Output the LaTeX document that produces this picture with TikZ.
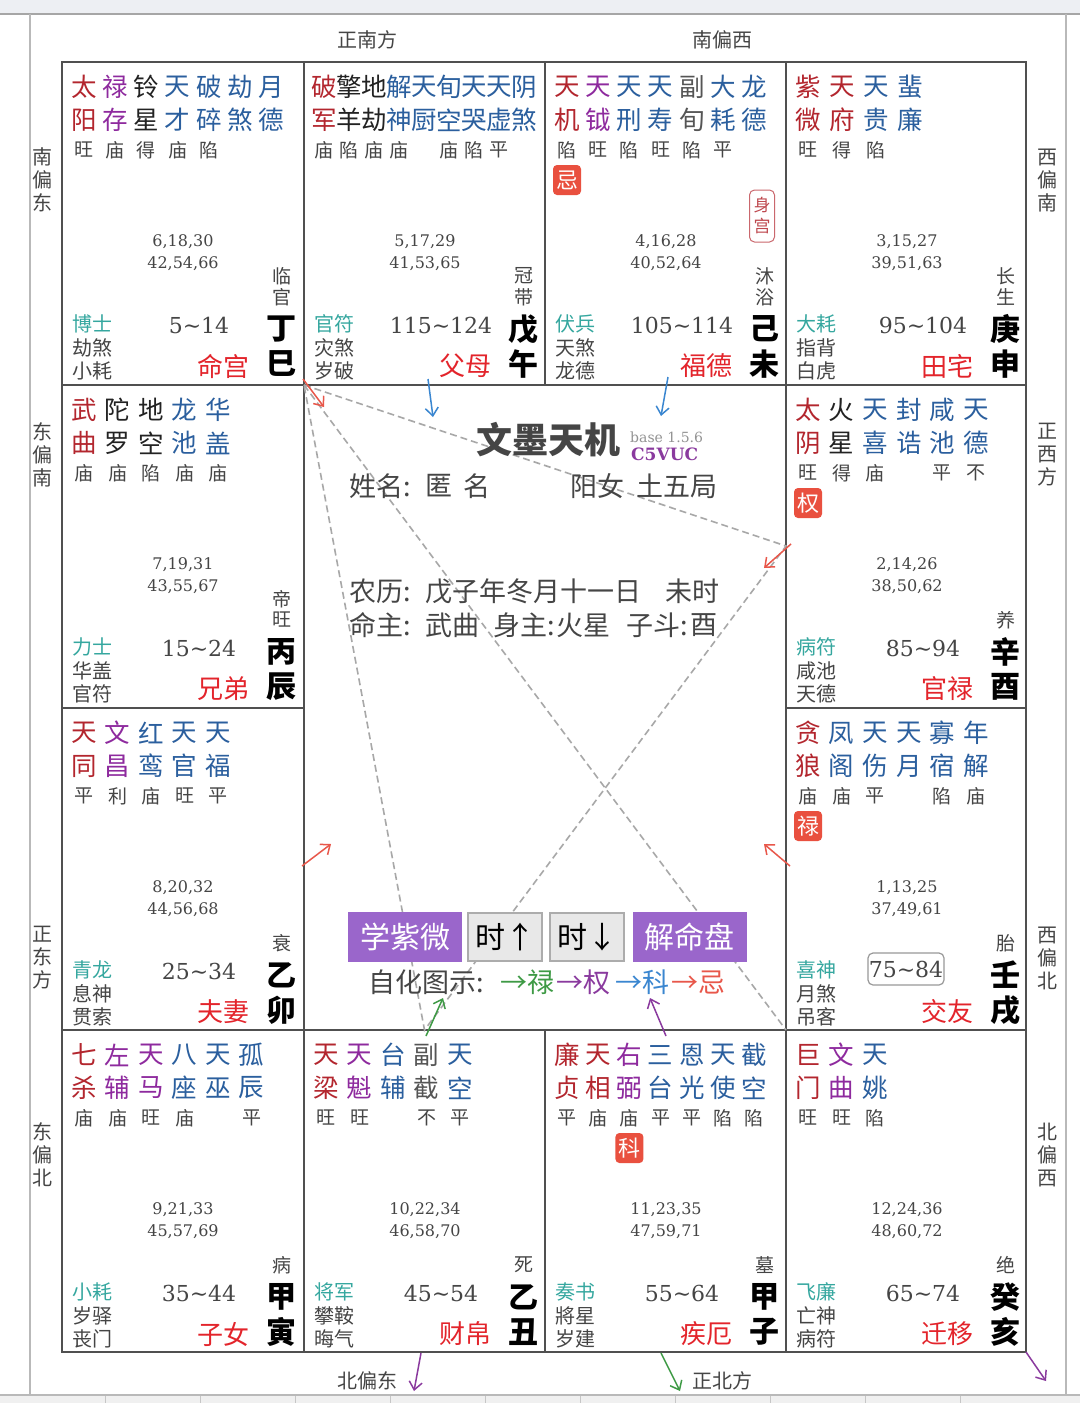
\documentclass[tikz,border=0pt]{standalone}
\usepackage{fontspec}
\setmainfont{Noto Sans CJK SC}
\newfontfamily\numfont{DejaVu Serif}
\usetikzlibrary{arrows.meta}
\definecolor{sr}{HTML}{B3262E}
\definecolor{sp}{HTML}{8E2A9E}
\definecolor{sk}{HTML}{222222}
\definecolor{sb}{HTML}{2B5F9E}
\definecolor{sg}{HTML}{555555}
\definecolor{gtx}{HTML}{454545}
\definecolor{tealc}{HTML}{35A79F}
\definecolor{pred}{HTML}{E3242B}
\definecolor{badgec}{HTML}{E9503F}
\definecolor{btnp}{HTML}{9A66CB}
\definecolor{gridc}{HTML}{505050}
\definecolor{dashc}{HTML}{A8A8A8}
\definecolor{arred}{HTML}{E8574A}
\definecolor{arblue}{HTML}{3A86D0}
\definecolor{argreen}{HTML}{3E9A45}
\definecolor{arpurp}{HTML}{8A3A9E}
\definecolor{topband}{HTML}{EDEFF3}
\tikzset{
 star/.style={font=\fontsize{25.5}{25.5}\selectfont, inner sep=0pt},
 bright/.style={font=\fontsize{19}{19}\selectfont, text=gtx, inner sep=0pt},
 num/.style={font=\numfont\fontsize{16}{16}\selectfont, text=gtx, inner sep=0pt},
 cs/.style={font=\fontsize{19}{19}\selectfont, text=gtx, inner sep=0pt},
 stemb/.style={font=\bfseries\fontsize{30}{30}\selectfont, text=black, inner sep=0pt},
 bos/.style={font=\fontsize{20}{20}\selectfont, text=tealc, anchor=west, inner sep=0pt},
 gods/.style={font=\fontsize{20}{20}\selectfont, text=gtx, anchor=west, inner sep=0pt},
 dec/.style={font=\numfont\fontsize{22}{22}\selectfont, text=gtx, inner sep=0pt},
 pal/.style={font=\fontsize{26}{26}\selectfont, text=pred, anchor=east, inner sep=0pt},
 badge/.style={fill=badgec, rounded corners=4pt, text=white, font=\fontsize{22}{22}\selectfont, minimum width=28pt, minimum height=30pt, inner sep=0pt},
 dir/.style={font=\fontsize{20}{20}\selectfont, text=gtx, inner sep=0pt},
 dirv/.style={font=\fontsize{20}{23}\selectfont, text=gtx, inner sep=0pt, align=center},
 info/.style={font=\fontsize{27}{27}\selectfont, text=gtx, inner sep=0pt, anchor=west},
 btnpurple/.style={fill=btnp, text=white, font=\fontsize{30}{30}\selectfont, minimum width=114pt, minimum height=50pt, inner sep=0pt},
 btngray/.style={fill=gray!18, draw=gray!65, line width=2pt, text=black, font=\fontsize{30}{30}\selectfont, minimum width=74pt, minimum height=48pt, inner sep=0pt},
 gridl/.style={draw=gridc, line width=1.3pt},
 dashl/.style={draw=dashc, line width=1.6pt, dash pattern=on 7pt off 4pt},
 arr/.style={line width=1.5pt, -{Straight Barb[length=8pt,width=13pt]}},
}
\newcommand{\starsP}[5]{%
 \foreach[count=\i] \c/\t/\b/\r in {#5}{%
  \pgfmathsetmacro{\xx}{#2+22+(\i-1)*#4}
  \node[star,text=\c] (#1t\i) at ({\xx},{#3+25}) {\t};
  \node[star,text=\c] (#1b\i) at ({\xx},{#3+58}) {\b};
  \node[bright] (#1r\i) at ({\xx},{#3+88}) {\r};
 }}
\newcommand{\pinfo}[9]{%
 \node[num] (#1n1) at ({#2+121},{#3+180}) {#4};
 \node[num] (#1n2) at ({#2+121},{#3+202}) {#5};
 \node[cs] (#1c1) at ({#2+220},{#3+214}) {#6};
 \node[cs] (#1c2) at ({#2+220},{#3+235}) {#7};
 \node[stemb] (#1s1) at ({#2+219},{#3+267}) {#8};
 \node[stemb] (#1s2) at ({#2+219},{#3+302}) {#9};}
\newcommand{\pbottom}[8]{%
 \node[bos] (#1g1) at ({#2+10},{#3+262}) {#4};
 \node[gods] (#1g2) at ({#2+10},{#3+286}) {#5};
 \node[gods] (#1g3) at ({#2+10},{#3+309}) {#6};
 \node[dec] (#1d) at ({#2+137},{#3+263}) {#7};
 \node[pal] (#1p) at ({#2+188},{#3+304}) {#8};}
\newcommand{\tl}{\textasciitilde}
\begin{document}
\begin{tikzpicture}[x=1pt,y=-1pt]
\useasboundingbox (0,0) rectangle (1080,1403);
\fill[white] (0,0) rectangle (1080,1403);
% frame
\fill[topband] (0,0) rectangle (1080,13);
\draw[gray!70, line width=2pt] (0,14) -- (1080,14);
\draw[gray!55, line width=1.5pt] (30,14) -- (30,1395);
\draw[gray!55, line width=1.5pt] (1066,14) -- (1066,1395);
\fill[gray!12] (0,1395) rectangle (1080,1403);
\draw[gray!55, line width=2pt] (0,1395) -- (1080,1395);
\foreach \k in {105,200,295,390,485,580,675,770,865,960}{\draw[gray!45,line width=1pt] (\k,1396) -- (\k,1403);}
% grid
\draw[gridl] (62,62) rectangle (1026,1352);
\foreach \xg in {304,545,786}{\draw[gridl] (\xg,62) -- (\xg,385); \draw[gridl] (\xg,1030) -- (\xg,1352);}
\draw[gridl] (304,385) -- (304,1030);
\draw[gridl] (786,385) -- (786,1030);
\draw[gridl] (62,385) -- (1026,385);
\draw[gridl] (62,1030) -- (1026,1030);
\draw[gridl] (62,708) -- (304,708);
\draw[gridl] (786,708) -- (1026,708);
% direction labels
\node[dir] (dS) at (367,40) {正南方};
\node[dir] (dSW) at (722,40) {南偏西};
\node[dir] (dNE) at (367,1381) {北偏东};
\node[dir] (dN) at (722,1381) {正北方};
\node[dirv] (dSE) at (42,180) {南\\偏\\东};
\node[dirv] (dES) at (42,455) {东\\偏\\南};
\node[dirv] (dE) at (42,958) {正\\东\\方};
\node[dirv] (dEN) at (42,1155) {东\\偏\\北};
\node[dirv] (dWS) at (1047,181) {西\\偏\\南};
\node[dirv] (dW) at (1047,455) {正\\西\\方};
\node[dirv] (dWN) at (1047,958) {西\\偏\\北};
\node[dirv] (dNW) at (1047,1155) {北\\偏\\西};
% dashed san-fang lines
\coordinate (ming) at (304,385);
\coordinate (guan) at (786,546);
\coordinate (cai) at (424.5,1030);
\coordinate (qian) at (786,1030);
\draw[dashl] (ming) -- (guan) -- (cai) -- (ming);
\draw[dashl] (ming) -- (qian);
% palaces
\starsP{si}{62}{62}{31.2}{sr/太/阳/旺, sp/禄/存/庙, sk/铃/星/得, sb/天/才/庙, sb/破/碎/陷, sb/劫/煞/{}, sb/月/德/{}}
\pinfo{si}{62}{62}{6,18,30}{42,54,66}{临}{官}{丁}{巳}
\pbottom{si}{62}{62}{博士}{劫煞}{小耗}{5\tl14}{命宫}
\starsP{wu}{302}{62}{25}{sr/破/军/庙, sk/擎/羊/陷, sk/地/劫/庙, sb/解/神/庙, sb/天/厨/{}, sb/旬/空/庙, sb/天/哭/陷, sb/天/虚/平, sb/阴/煞/{}}
\pinfo{wu}{304}{62}{5,17,29}{41,53,65}{冠}{带}{戊}{午}
\pbottom{wu}{304}{62}{官符}{灾煞}{岁破}{115\tl124}{父母}
\starsP{wei}{545}{62}{31.2}{sr/天/机/陷, sp/天/钺/旺, sb/天/刑/陷, sb/天/寿/旺, sg/副/旬/陷, sb/大/耗/平, sb/龙/德/{}}
\pinfo{wei}{545}{62}{4,16,28}{40,52,64}{沐}{浴}{己}{未}
\pbottom{wei}{545}{62}{伏兵}{天煞}{龙德}{105\tl114}{福德}
\node[badge] (weiji) at (567,180) {忌};
\node[draw=sr!70, rounded corners=5pt, text=sr!85, font=\fontsize{17}{21}\selectfont, align=center, minimum width=25pt, minimum height=52pt, inner sep=0pt, line width=1pt] (shengong) at (762,216) {身\\宫};
\starsP{shen}{786}{62}{34}{sr/紫/微/旺, sr/天/府/得, sb/天/贵/陷, sb/蜚/廉/{}}
\pinfo{shen}{786}{62}{3,15,27}{39,51,63}{长}{生}{庚}{申}
\pbottom{shen}{786}{62}{大耗}{指背}{白虎}{95\tl104}{田宅}
\starsP{chen}{62}{385}{33.5}{sr/武/曲/庙, sk/陀/罗/庙, sk/地/空/陷, sb/龙/池/庙, sb/华/盖/庙}
\pinfo{chen}{62}{385}{7,19,31}{43,55,67}{帝}{旺}{丙}{辰}
\pbottom{chen}{62}{385}{力士}{华盖}{官符}{15\tl24}{兄弟}
\starsP{you}{786}{385}{33.6}{sr/太/阴/旺, sk/火/星/得, sb/天/喜/庙, sb/封/诰/{}, sb/咸/池/平, sb/天/德/不}
\pinfo{you}{786}{385}{2,14,26}{38,50,62}{}{养}{辛}{酉}
\pbottom{you}{786}{385}{病符}{咸池}{天德}{85\tl94}{官禄}
\node[badge] (youquan) at (808,503) {权};
\starsP{mao}{62}{708}{33.5}{sr/天/同/平, sp/文/昌/利, sb/红/鸾/庙, sb/天/官/旺, sb/天/福/平}
\pinfo{mao}{62}{708}{8,20,32}{44,56,68}{}{衰}{乙}{卯}
\pbottom{mao}{62}{708}{青龙}{息神}{贯索}{25\tl34}{夫妻}
\starsP{xu}{786}{708}{33.6}{sr/贪/狼/庙, sb/凤/阁/庙, sb/天/伤/平, sb/天/月/{}, sb/寡/宿/陷, sb/年/解/庙}
\pinfo{xu}{786}{708}{1,13,25}{37,49,61}{}{胎}{壬}{戌}
\pbottom{xu}{786}{708}{喜神}{月煞}{吊客}{}{交友}
\node[dec, draw=gray!80, line width=1.2pt, rounded corners=5pt, minimum width=76pt, minimum height=32pt] (xudbox) at (906,969) {75\tl84};
\node[badge] (xulu) at (808,826) {禄};
\starsP{yin}{62}{1030}{33.5}{sr/七/杀/庙, sp/左/辅/庙, sp/天/马/旺, sb/八/座/庙, sb/天/巫/{}, sb/孤/辰/平}
\pinfo{yin}{62}{1030}{9,21,33}{45,57,69}{}{病}{甲}{寅}
\pbottom{yin}{62}{1030}{小耗}{岁驿}{丧门}{35\tl44}{子女}
\starsP{chou}{304}{1030}{33.5}{sr/天/梁/旺, sp/天/魁/旺, sb/台/辅/{}, sg/副/截/不, sb/天/空/平}
\pinfo{chou}{304}{1030}{10,22,34}{46,58,70}{}{死}{乙}{丑}
\pbottom{chou}{304}{1030}{将军}{攀鞍}{晦气}{45\tl54}{财帛}
\starsP{zi}{545}{1030}{31.2}{sr/廉/贞/平, sr/天/相/庙, sp/右/弼/庙, sb/三/台/平, sb/恩/光/平, sb/天/使/陷, sb/截/空/陷}
\pinfo{zi}{545}{1030}{11,23,35}{47,59,71}{}{墓}{甲}{子}
\pbottom{zi}{545}{1030}{奏书}{將星}{岁建}{55\tl64}{疾厄}
\node[badge] (zike) at (629.4,1148) {科};
\starsP{hai}{786}{1030}{33.6}{sr/巨/门/旺, sp/文/曲/旺, sb/天/姚/陷}
\pinfo{hai}{786}{1030}{12,24,36}{48,60,72}{}{绝}{癸}{亥}
\pbottom{hai}{786}{1030}{飞廉}{亡神}{病符}{65\tl74}{迁移}
% center info
\node[font=\bfseries\fontsize{36}{36}\selectfont, text=gtx, inner sep=0pt] (title) at (548,440) {文墨天机};
\node[font=\numfont\fontsize{14}{14}\selectfont, text=gray!85, anchor=west, inner sep=0pt] (ver) at (630,437) {base 1.5.6};
\node[font=\numfont\bfseries\fontsize{17}{17}\selectfont, text=arpurp, anchor=west, inner sep=0pt] (code) at (631,454) {C5VUC};
\node[info] (i1) at (349,486) {姓名:};
\node[info] (i2) at (425,486) {匿};
\node[info] (i3) at (463,486) {名};
\node[info] (i4) at (570,486) {阳女};
\node[info] (i5) at (636,486) {土五局};
\node[info] (i6) at (349,591) {农历:};
\node[info] (i7) at (425,591) {戊子年冬月十一日};
\node[info] (i8) at (665,591) {未时};
\node[info] (i9) at (349,625) {命主:};
\node[info] (i10) at (425,625) {武曲};
\node[info] (i11) at (493,625) {身主:};
\node[info] (i12) at (556,625) {火星};
\node[info] (i13) at (626,625) {子斗:};
\node[info] (i14) at (690,625) {酉};
% buttons
\node[btnpurple] (b1) at (405,937) {学紫微};
\node[btngray] (b2) at (505,937) {时↑};
\node[btngray] (b3) at (587,937) {时↓};
\node[btnpurple] (b4) at (689.5,937) {解命盘};
\node[info] (h0) at (368,982) {自化图示:};
\node[info, text=argreen] (h1) at (500,982) {→禄};
\node[info, text=arpurp] (h2) at (556,982) {→权};
\node[info, text=arblue] (h3) at (615,982) {→科};
\node[info, text=arred] (h4) at (671,982) {→忌};
% arrows
\coordinate (a1s) at (303,379); \coordinate (a1e) at (324,407);
\draw[arr, arred] (a1s) -- (a1e);
\coordinate (a2s) at (791,544); \coordinate (a2e) at (764,568);
\draw[arr, arred] (a2s) -- (a2e);
\coordinate (a3s) at (428,379); \coordinate (a3e) at (433,417);
\draw[arr, arblue] (a3s) -- (a3e);
\coordinate (a4s) at (668,377); \coordinate (a4e) at (661,416);
\draw[arr, arblue] (a4s) -- (a4e);
\coordinate (a5s) at (302,866); \coordinate (a5e) at (331,844);
\draw[arr, arred] (a5s) -- (a5e);
\coordinate (a6s) at (790,866); \coordinate (a6e) at (764,844);
\draw[arr, arred] (a6s) -- (a6e);
\coordinate (a7s) at (426,1036); \coordinate (a7e) at (443,998);
\draw[arr, argreen] (a7s) -- (a7e);
\coordinate (a8s) at (666,1036); \coordinate (a8e) at (650,998);
\draw[arr, arpurp] (a8s) -- (a8e);
\coordinate (a9s) at (421,1353); \coordinate (a9e) at (414,1391);
\draw[arr, arpurp] (a9s) -- (a9e);
\coordinate (a10s) at (661,1353); \coordinate (a10e) at (680,1391);
\draw[arr, argreen] (a10s) -- (a10e);
\coordinate (a11s) at (1026,1352); \coordinate (a11e) at (1046,1381);
\draw[arr, arpurp] (a11s) -- (a11e);
\end{tikzpicture}
\end{document}
